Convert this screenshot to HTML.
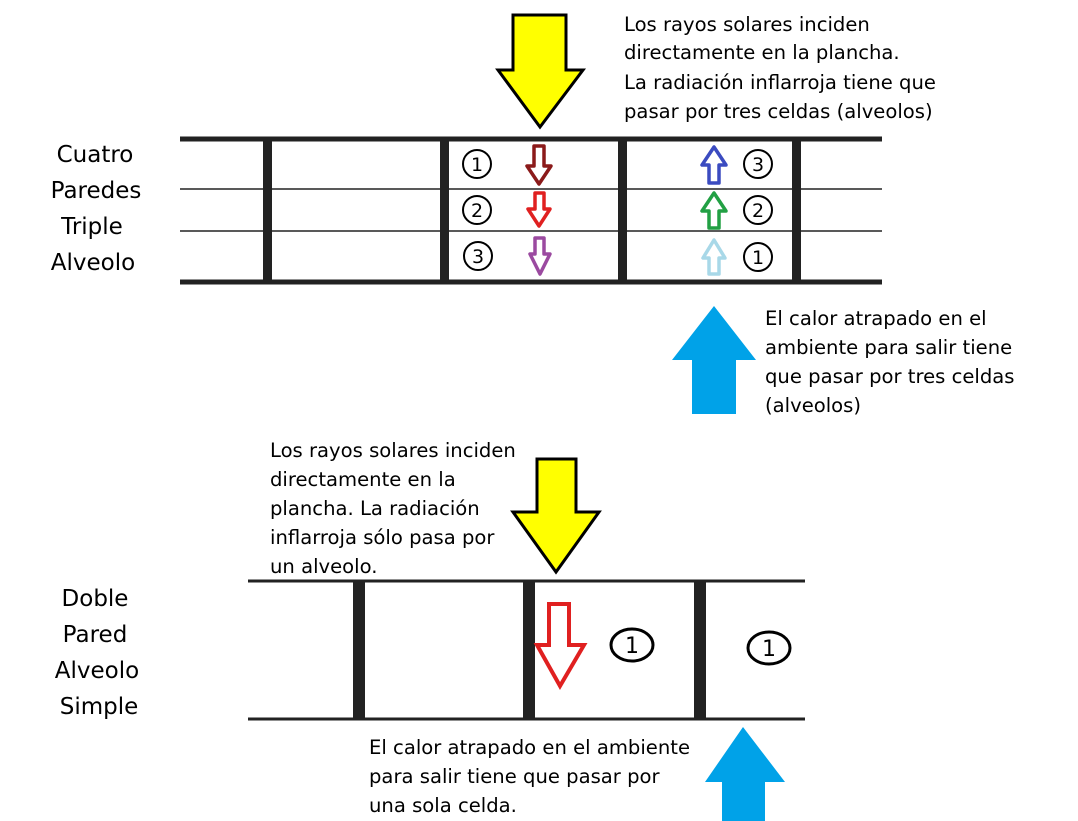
<!DOCTYPE html>
<html><head><style>body{margin:0;background:#fff}svg{display:block}text{font-family:"DejaVu Sans","Liberation Sans",sans-serif;fill:#000}</style></head><body>
<svg width="1078" height="821" viewBox="0 0 1078 821" xmlns="http://www.w3.org/2000/svg">
<rect width="1078" height="821" fill="#fff"/>
<g stroke="#222">
<line x1="180" y1="139" x2="882" y2="139" stroke-width="5"/>
<line x1="180" y1="189" x2="882" y2="189" stroke-width="1.5"/>
<line x1="180" y1="231" x2="882" y2="231" stroke-width="1.5"/>
<line x1="180" y1="282" x2="882" y2="282" stroke-width="5"/>
</g>
<g fill="#222">
<rect x="263" y="139" width="9" height="143"/>
<rect x="440" y="139" width="9" height="143"/>
<rect x="618" y="139" width="9" height="143"/>
<rect x="792" y="139" width="9" height="143"/>
</g>
<g font-size="23" text-anchor="middle">
<text x="95" y="162">Cuatro</text><text x="96" y="198">Paredes</text><text x="92" y="234">Triple</text><text x="93" y="270">Alveolo</text>
</g>
<polygon points="513,15 566,15 566,70 583,70 540,127 498,70 513,70" fill="#ffff00" stroke="#000" stroke-width="3"/>
<g fill="none" stroke="#000" stroke-width="2">
<circle cx="477" cy="164" r="14"/><circle cx="477" cy="210" r="14"/><circle cx="478" cy="256" r="14"/>
<circle cx="758" cy="164" r="14"/><circle cx="758" cy="210" r="14"/><circle cx="758" cy="257" r="14"/>
</g>
<g font-size="19" text-anchor="middle" font-family="Liberation Sans">
<text x="477" y="171">1</text><text x="477" y="217">2</text><text x="478" y="263">3</text>
<text x="758" y="171">3</text><text x="758" y="217">2</text><text x="758" y="264">1</text>
</g>
<g fill="#fff" stroke-width="3.5" stroke-linejoin="round">
<polygon points="534,146 544,146 544,166 551,166 539,184 527,166 534,166" stroke="#8b1a1a"/>
<polygon points="535,193 544,193 544,209 550,209 539,226 528,209 535,209" stroke="#e02020"/>
<polygon points="535,238 544,238 544,254 550,254 540,274 530,254 535,254" stroke="#9b4aa0"/>
<polygon points="709,183 719,183 719,165 726,165 714,147 702,165 709,165" stroke="#3b4bc0"/>
<polygon points="709,228 719,228 719,211 726,211 714,193 702,211 709,211" stroke="#22a044"/>
<polygon points="709,274 719,274 719,258 725,258 714,240 703,258 709,258" stroke="#a8d8e8"/>
</g>
<polygon points="714,306 756,360 736,360 736,414 692,414 692,360 672,360" fill="#00a2e8"/>
<g font-size="19.6">
<text x="624" y="31">Los rayos solares inciden</text>
<text x="624" y="59">directamente en la plancha.</text>
<text x="624" y="89">La radiación inflarroja tiene que</text>
<text x="624" y="118">pasar por tres celdas (alveolos)</text>
<text x="765" y="325">El calor atrapado en el</text>
<text x="765" y="354">ambiente para salir tiene</text>
<text x="765" y="383">que pasar por tres celdas</text>
<text x="765" y="412">(alveolos)</text>
<text x="270" y="457">Los rayos solares inciden</text>
<text x="270" y="486">directamente en la</text>
<text x="270" y="515">plancha. La radiación</text>
<text x="270" y="544">inflarroja sólo pasa por</text>
<text x="270" y="573">un alveolo.</text>
<text x="369" y="754">El calor atrapado en el ambiente</text>
<text x="369" y="783">para salir tiene que pasar por</text>
<text x="369" y="812">una sola celda.</text>
</g>
<polygon points="537,459 576,459 576,512 599,512 556,572 513,512 537,512" fill="#ffff00" stroke="#000" stroke-width="3"/>
<g stroke="#222" stroke-width="3"><line x1="248" y1="581" x2="805" y2="581"/><line x1="248" y1="719" x2="805" y2="719"/></g>
<g fill="#222"><rect x="353" y="581" width="12" height="138"/><rect x="523" y="581" width="12" height="138"/><rect x="694" y="581" width="12" height="138"/></g>
<g font-size="23" text-anchor="middle">
<text x="95" y="606">Doble</text><text x="95" y="642">Pared</text><text x="97" y="678">Alveolo</text><text x="99" y="714">Simple</text>
</g>
<polygon points="549,604 569,604 569,645 584,645 560,686 537,645 549,645" fill="#fff" stroke="#e02020" stroke-width="4"/>
<g fill="none" stroke="#000" stroke-width="3"><ellipse cx="632" cy="645" rx="21" ry="16"/><ellipse cx="769" cy="648" rx="21" ry="16"/></g>
<g font-size="22" text-anchor="middle" font-family="Liberation Serif"><text x="632" y="653">1</text><text x="769" y="656">1</text></g>
<polygon points="743,727 785,782 765,782 765,821 722,821 722,782 705,782" fill="#00a2e8"/>
</svg>
</body></html>
